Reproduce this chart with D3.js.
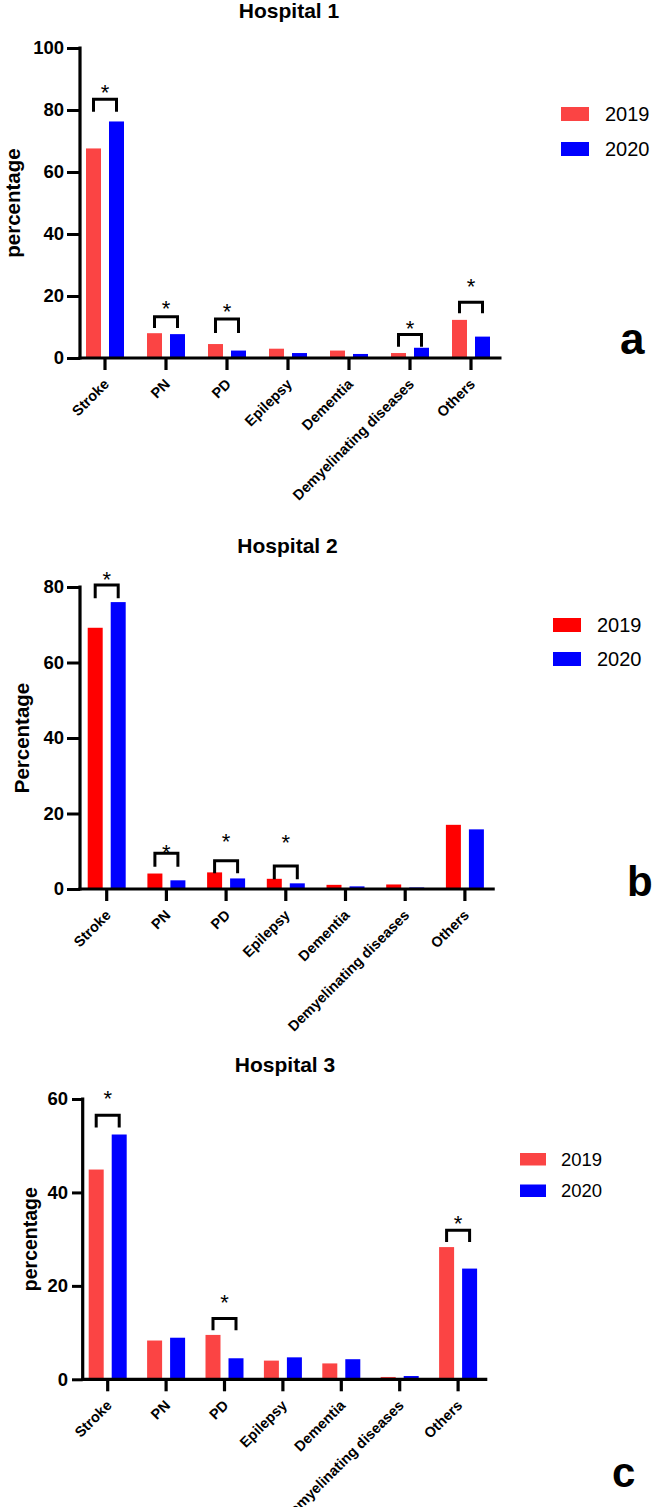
<!DOCTYPE html>
<html><head><meta charset="utf-8">
<script src="https://cdn.jsdelivr.net/npm/d3@7"></script>
<style>
body{margin:0;background:#fff}
svg{display:block;background:#fff}
text{font-family:"Liberation Sans",Arial,Helvetica,sans-serif}
</style>
</head><body>
<svg id="chart" width="653" height="1507"></svg>
<script>
// ---------- data ----------
const categories = ["Stroke","PN","PD","Epilepsy","Dementia","Demyelinating diseases","Others"];
const years = ["2019","2020"];

const hospital1_2019 = [67.6, 8.0, 4.5, 3.0, 2.4, 1.6, 12.3];
const hospital1_2020 = [76.3, 7.7, 2.4, 1.6, 1.3, 3.3, 6.9];
const hospital2_2019 = [69.2, 4.1, 4.4, 2.7, 1.1, 1.2, 17.0];
const hospital2_2020 = [76.0, 2.3, 2.8, 1.5, 0.7, 0.4, 15.8];
const hospital3_2019 = [44.9, 8.3, 9.5, 4.0, 3.4, 0.5, 28.3];
const hospital3_2020 = [52.4, 8.9, 4.5, 4.7, 4.3, 0.7, 23.7];

const hospital1_ticks = [0, 20, 40, 60, 80, 100];
const hospital2_ticks = [0, 20, 40, 60, 80];
const hospital3_ticks = [0, 20, 40, 60];

// significance brackets (levels in data units: bracket top, leg bottom, star)
const hospital1_sig = [
  {cat:"Stroke", top:83.5, leg:79.4, star:87.1},
  {cat:"PN", top:13.3, leg:9.7, star:17.4},
  {cat:"PD", top:12.6, leg:8.1, star:16.5},
  {cat:"Demyelinating diseases", top:7.6, leg:3.6, star:11.0},
  {cat:"Others", top:18.0, leg:14.4, star:24.6}
];
const hospital2_sig = [
  {cat:"Stroke", top:80.5, leg:77.0, star:83.2},
  {cat:"PN", top:9.5, leg:5.9, star:10.8},
  {cat:"PD", top:7.5, leg:4.2, star:13.7},
  {cat:"Epilepsy", top:6.1, leg:2.6, star:13.4}
];
const hospital3_sig = [
  {cat:"Stroke", top:56.5, leg:53.9, star:61.0},
  {cat:"PD", top:13.0, leg:10.5, star:17.3},
  {cat:"Others", top:31.9, leg:29.4, star:34.3}
];

// ---------- drawing ----------
const svg = d3.select("#chart");

const panels = [
  {title:"Hospital 1", letter:"a", ylabel:"percentage", v19:hospital1_2019, v20:hospital1_2020,
   ticks:hospital1_ticks, sig:hospital1_sig, red:"#fb4444",
   titleX:289, titleY:18, axX:80, y0:358, yTop:48, bandX0:74.5, bandX1:501.5,
   tickSize:13, tickPad:3, tickFont:18.5, ylabX:16, ylabFont:20.5,
   legX:561, legY:107, legW:28, legH:14, legGap:35, legFont:20, legTextX:605,
   letterX:620, letterY:354, letterFont:44},
  {title:"Hospital 2", letter:"b", ylabel:"Percentage", v19:hospital2_2019, v20:hospital2_2020,
   ticks:hospital2_ticks, sig:hospital2_sig, red:"#ff0000",
   titleX:287.5, titleY:553, axX:80, y0:889, yTop:587, bandX0:76.85, bandX1:494.75,
   tickSize:13, tickPad:3, tickFont:18.5, ylabX:25, ylabFont:20.5,
   legX:553, legY:618, legW:28, legH:14, legGap:34, legFont:20, legTextX:597,
   letterX:627, letterY:896, letterFont:42},
  {title:"Hospital 3", letter:"c", ylabel:"percentage", v19:hospital3_2019, v20:hospital3_2020,
   ticks:hospital3_ticks, sig:hospital3_sig, red:"#fb4444",
   titleX:285, titleY:1072, axX:82.7, y0:1379.3, yTop:1099, bandX0:78.5, bandX1:487.3,
   tickSize:10.7, tickPad:4, tickFont:18.5, ylabX:33, ylabFont:19.5,
   legX:520, legY:1153, legW:26, legH:12.5, legGap:31.5, legFont:18.5, legTextX:561,
   letterX:612, letterY:1487, letterFont:42}
];

const blue = "#0000ff";

panels.forEach(p => {
  const g = svg.append("g");
  const yMax = d3.max(p.ticks);
  const y = d3.scaleLinear().domain([0, yMax]).range([p.y0, p.yTop]);
  const x = d3.scaleBand().domain(categories).range([p.bandX0, p.bandX1]).paddingInner(0).paddingOuter(0);
  const xs = d3.scaleBand().domain(years).range([-19, 19]).paddingInner(0.348).paddingOuter(0);
  const colors = {"2019": p.red, "2020": blue};
  const c = d => x(d) + x.bandwidth()/2;

  // title
  g.append("text").attr("x", p.titleX).attr("y", p.titleY)
    .attr("text-anchor","middle").attr("font-weight","bold").attr("font-size",21)
    .text(p.title);

  // bars
  const rows = categories.map((cat,i) => ({cat, vals:[{year:"2019", v:p.v19[i]},{year:"2020", v:p.v20[i]}]}));
  const grp = g.selectAll("g.cat").data(rows).enter().append("g")
    .attr("transform", d => `translate(${c(d.cat)},0)`);
  grp.selectAll("rect").data(d => d.vals).enter().append("rect")
    .attr("x", d => xs(d.year)).attr("width", xs.bandwidth())
    .attr("y", d => y(d.v)).attr("height", d => y(0) - y(d.v))
    .attr("fill", d => colors[d.year]);

  // y axis
  const yAxis = d3.axisLeft(y).tickValues(p.ticks).tickSize(p.tickSize).tickSizeOuter(0).tickPadding(p.tickPad);
  const ya = g.append("g").attr("transform", `translate(${p.axX},0)`).call(yAxis);
  ya.select(".domain").remove();
  ya.selectAll(".tick line").attr("stroke","#000").attr("stroke-width",3);
  ya.selectAll(".tick text").attr("font-size",p.tickFont).attr("font-weight","bold")
    .attr("font-family","'Liberation Sans',Arial,sans-serif").attr("fill","#000");
  g.append("line").attr("x1",p.axX).attr("x2",p.axX).attr("y1",y(0)+1.5).attr("y2",y(yMax)-1.5)
    .attr("stroke","#000").attr("stroke-width",3.2);

  // x axis
  const xAxis = d3.axisBottom(x).tickSize(12).tickSizeOuter(0);
  const xa = g.append("g").attr("transform", `translate(0,${p.y0})`).call(xAxis);
  xa.select(".domain").remove();
  xa.selectAll(".tick line").attr("stroke","#000").attr("stroke-width",3.2);
  xa.selectAll(".tick text")
    .attr("x",0).attr("y",0).attr("dy",0)
    .attr("transform","translate(5,27) rotate(-45)")
    .attr("text-anchor","end").attr("font-size",14.5).attr("font-weight","bold")
    .attr("font-family","'Liberation Sans',Arial,sans-serif").attr("fill","#000");
  g.append("line").attr("x1",p.axX-1.6).attr("x2",p.bandX1).attr("y1",p.y0).attr("y2",p.y0)
    .attr("stroke","#000").attr("stroke-width",3.2);

  // y label
  const ly = (p.y0 + p.yTop)/2;
  g.append("text").attr("transform", `translate(${p.ylabX},${ly}) rotate(-90)`)
    .attr("text-anchor","middle").attr("dy","0.2em").attr("font-weight","bold").attr("font-size",p.ylabFont)
    .text(p.ylabel);

  // significance brackets
  p.sig.forEach(s => {
    const xl = c(s.cat) + xs("2019") + xs.bandwidth()/2;
    const xr = c(s.cat) + xs("2020") + xs.bandwidth()/2;
    g.append("path")
      .attr("d", `M${xl},${y(s.leg)}V${y(s.top)}H${xr}V${y(s.leg)}`)
      .attr("fill","none").attr("stroke","#000").attr("stroke-width",3);
    g.append("text").attr("x",(xl+xr)/2).attr("y", y(s.star) + 12)
      .attr("text-anchor","middle").attr("font-size",22).text("*");
  });

  // legend
  years.forEach((yr,i) => {
    const ty = p.legY + i*p.legGap;
    g.append("rect").attr("x",p.legX).attr("y",ty).attr("width",p.legW).attr("height",p.legH)
      .attr("fill", colors[yr]);
    g.append("text").attr("x",p.legTextX).attr("y",ty+p.legH).attr("font-size",p.legFont).text(yr);
  });

  // panel letter
  g.append("text").attr("x",p.letterX).attr("y",p.letterY).attr("font-size",p.letterFont)
    .attr("font-weight","bold").text(p.letter);
});
</script>
</body></html>
